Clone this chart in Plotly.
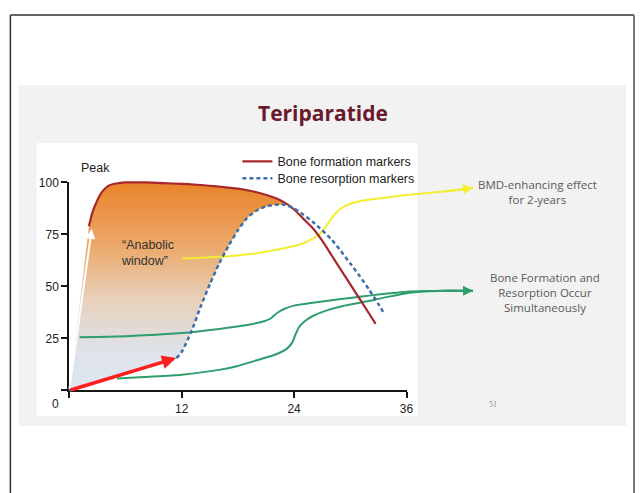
import plotly.graph_objects as go

W, H = 643, 493

# ---- data (months since start of treatment, marker level in % of peak) ----
form_month = [2.1, 2.5, 3.0, 3.5, 4.2, 5.0, 6.0, 8.0, 10, 12, 14, 16, 18, 20, 22,
              23, 24, 25, 26, 27, 28, 29, 30, 31, 32, 32.7]
form_level = [79, 86, 91.5, 95.5, 98.5, 99.5, 100, 100, 99.7, 99.3, 98.8, 98, 97,
              95.3, 92.5, 90.3, 87, 82.5, 78, 72, 65, 58, 51, 44, 37, 32]

res_month = [0, 2, 4, 6, 8, 10, 11.4, 12, 13, 14, 15, 16, 17, 18, 19, 20, 21, 22,
             23, 24, 25, 26, 27, 28, 29, 30, 31, 32, 33, 33.6]
res_level = [0, 2.8, 5.5, 8.2, 10.8, 13.5, 15.5, 18.5, 28, 40, 51, 61, 69.5, 77,
             83, 86.5, 88.5, 89.3, 89.3, 87.5, 84.5, 81, 77, 72.5, 67, 61, 55,
             48.5, 41.5, 37]

sim_upper_month = [1.1, 4, 8, 12, 16, 19, 20, 20.8, 21.5, 21.9, 22.3, 23, 24, 26,
                   28, 30, 32, 34, 36, 38, 40, 43.1]
sim_upper_level = [25.6, 25.8, 26.5, 27.6, 29.6, 31.5, 32.4, 33.3, 34.6, 36.2,
                   37.6, 39.3, 40.8, 42.2, 43.4, 44.5, 45.6, 46.6, 47.5, 47.8,
                   47.9, 48]

sim_lower_month = [5.1, 8, 12, 16, 18, 20, 22, 23.2, 23.8, 24.1, 24.5, 25.2, 26,
                   27.5, 29.2, 31, 32.4, 34, 36.2, 38, 40, 43.1]
sim_lower_level = [5.7, 6.5, 7.6, 9.9, 11.8, 14.5, 17.3, 20, 23, 26.4, 30.3, 33.5,
                   35.8, 38.5, 40.6, 42.2, 43.4, 45, 46.9, 47.6, 47.9, 48]

bmd_month = [12.1, 14, 17, 20, 22, 24, 25, 26, 26.8, 27.5, 28.2, 29, 30, 31, 33,
             36, 40, 43.1]
bmd_level = [63.5, 63.8, 64.5, 66, 67.5, 69.5, 70.8, 73, 75.5, 79.5, 84, 87.5,
             89.8, 91, 92.3, 94, 95.7, 97.3]

anabolic_end = 23                      # where the two marker curves meet
early_formation = (11.4, 15.6)         # tip of the red arrow
early_peak = (2.4, 77.7)               # tip of the white arrow

x_ticks = [0, 12, 24, 36]
y_ticks = [0, 25, 50, 75, 100]

# ---- page geometry (pixels) ----
X0_PX, X36_PX = 70, 411
Y0_PX, Y100_PX = 389, 178
OV_L, OV_R, OV_T, OV_B = 37, 505, 140, 415   # area in which curves are drawn


def fx(px):
    return px / W


def fy(py):
    return 1 - py / H


ppm = (X36_PX - X0_PX) / 36.0
ppu = (Y0_PX - Y100_PX) / 100.0
x2_range = [(OV_L - X0_PX) / ppm, (OV_R - X0_PX) / ppm]
y2_range = [(Y0_PX - OV_B) / ppu, (Y0_PX - OV_T) / ppu]

RED = "#a8282a"
BLUE = "#3d6ea8"
GREEN = "#2f9e6e"
YELLOW = "#f2ee30"
CHART_FONT = "Liberation Sans, Arial, sans-serif"
SLIDE_FONT = "Open Sans, sans-serif"

fig = go.Figure()

# placeholder so the visible axis pair is rendered
fig.add_trace(go.Scatter(x=[], y=[], xaxis="x", yaxis="y", showlegend=False))

# anabolic window: area between formation and resorption curves
top_x = [m for m in form_month if m <= anabolic_end]
top_y = form_level[:len(top_x)]
bot = [(m, v) for m, v in zip(res_month, res_level) if m <= anabolic_end][::-1]
poly_x = [0] + top_x + [m for m, _ in bot]
poly_y = [0] + top_y + [v for _, v in bot]
fig.add_trace(go.Scatter(
    x=poly_x, y=poly_y, xaxis="x2", yaxis="y2", mode="lines",
    line=dict(width=0), fill="toself", showlegend=False, hoverinfo="skip",
    fillgradient=dict(
        type="vertical", start=0, stop=100,
        colorscale=[[0, "#dce6f2"], [0.2, "#dfe3ea"], [0.45, "#e7d0ba"],
                    [0.7, "#eca96a"], [1, "#e8842a"]])))

# pale edge on the left of the window, under the white arrow
fig.add_trace(go.Scatter(
    x=[0, early_peak[0]], y=[0, early_peak[1]], xaxis="x2", yaxis="y2",
    mode="lines", line=dict(color="#f4c4c4", width=1), showlegend=False,
    hoverinfo="skip"))

# green: formation and resorption occurring together
for mx, lv in ((sim_upper_month, sim_upper_level), (sim_lower_month, sim_lower_level)):
    fig.add_trace(go.Scatter(
        x=mx, y=lv, xaxis="x2", yaxis="y2", mode="lines",
        line=dict(color=GREEN, width=2, shape="spline", smoothing=0.6),
        showlegend=False, hoverinfo="skip"))

# yellow: BMD effect
fig.add_trace(go.Scatter(
    x=bmd_month, y=bmd_level, xaxis="x2", yaxis="y2", mode="lines",
    line=dict(color=YELLOW, width=2, shape="spline", smoothing=0.6),
    showlegend=False, hoverinfo="skip"))

fig.add_trace(go.Scatter(
    x=form_month, y=form_level, xaxis="x2", yaxis="y2", mode="lines",
    name="Bone formation markers", legend="legend",
    line=dict(color=RED, width=2.2, shape="spline", smoothing=0.6)))
fig.add_trace(go.Scatter(
    x=res_month, y=res_level, xaxis="x2", yaxis="y2", mode="lines",
    name="Bone resorption markers", legend="legend2",
    line=dict(color=BLUE, width=2.5, dash="4px,3px", shape="spline",
              smoothing=0.6)))

axis_common = dict(showgrid=False, zeroline=False, showline=True, linewidth=2,
                   linecolor="#151515", ticks="outside", tickwidth=2,
                   tickcolor="#151515", ticklen=6,
                   tickfont=dict(family=CHART_FONT, size=12, color="#222"))

legend_common = dict(xanchor="left", yanchor="middle", bgcolor="rgba(0,0,0,0)",
                     itemwidth=30,
                     font=dict(family=CHART_FONT, size=12.5, color="#222"))

fig.update_layout(
    width=W, height=H, autosize=False,
    margin=dict(l=0, r=0, t=0, b=0),
    paper_bgcolor="white", plot_bgcolor="rgba(0,0,0,0)",
    xaxis=dict(domain=[fx(X0_PX), fx(X36_PX)], range=[0, 36], anchor="y",
               tickvals=x_ticks,
               ticktext=[""] + [str(v) for v in x_ticks[1:]], **axis_common),
    yaxis=dict(domain=[fy(Y0_PX), fy(Y100_PX)], range=[0, 100], anchor="x",
               tickvals=y_ticks,
               ticktext=[""] + [str(v) for v in y_ticks[1:]], **axis_common),
    xaxis2=dict(domain=[fx(OV_L), fx(OV_R)], range=x2_range, anchor="y2",
                visible=False),
    yaxis2=dict(domain=[fy(OV_B), fy(OV_T)], range=y2_range, anchor="x2",
                visible=False),
    legend=dict(x=fx(240), y=fy(157), **legend_common),
    legend2=dict(x=fx(240), y=fy(174), **legend_common),
    shapes=[
        dict(type="rect", xref="paper", yref="paper", layer="below",
             x0=fx(19), x1=fx(633), y0=fy(425), y1=fy(79),
             fillcolor="#f2f2f2", line=dict(width=0)),
        dict(type="rect", xref="paper", yref="paper", layer="below",
             x0=fx(37), x1=fx(422), y0=fy(415), y1=fy(138),
             fillcolor="white", line=dict(width=0)),
        dict(type="line", xref="paper", yref="paper", x0=fx(10.5), x1=fx(10.5),
             y0=fy(8), y1=0, line=dict(color="#333", width=1.5)),
        dict(type="line", xref="paper", yref="paper", x0=fx(10.5), x1=fx(641),
             y0=fy(8), y1=fy(8), line=dict(color="#333", width=1.5)),
        dict(type="line", xref="paper", yref="paper", x0=fx(641), x1=fx(641),
             y0=fy(8), y1=0, line=dict(color="#777", width=2)),
    ],
)


def label(text, px, py, size, color, family, **kw):
    return dict(text=text, xref="paper", yref="paper", x=fx(px), y=fy(py),
                xanchor=kw.pop("xanchor", "center"), yanchor="middle",
                showarrow=False, font=dict(family=family, size=size, color=color),
                **kw)


ann = [
    label("<b>Teriparatide</b>", 327, 108, 21, "#6b1a2d", SLIDE_FONT),
    label("0", 56, 403, 12, "#222", CHART_FONT),
    label("BMD-enhancing effect<br>for 2-years", 543, 188, 11.5, "#5a5a5a",
          SLIDE_FONT),
    label("Bone Formation and<br>Resorption Occur<br>Simultaneously", 551, 290,
          11.5, "#5a5a5a", SLIDE_FONT),
    label("51", 498, 403, 8, "#888", "Liberation Serif, serif"),
    dict(text="Peak", xref="x2", yref="y2", x=1.0, y=106.8, xanchor="left",
         yanchor="middle", showarrow=False,
         font=dict(family=CHART_FONT, size=12.5, color="#222")),
    dict(text="\u201cAnabolic<br>window\u201d", xref="x2", yref="y2", x=5.3,
         y=66.3, xanchor="left", yanchor="middle", align="left",
         showarrow=False,
         font=dict(family=CHART_FONT, size=12.5, color="#333")),
]

arrow_base = dict(xref="x2", yref="y2", axref="x2", ayref="y2", text="",
                  showarrow=True, standoff=0, startstandoff=0)
ann.append(dict(arrow_base, x=early_peak[0], y=early_peak[1], ax=0, ay=0,
                arrowcolor="white", arrowwidth=2, arrowhead=2, arrowsize=1))
ann.append(dict(arrow_base, x=early_formation[0], y=early_formation[1], ax=0,
                ay=0, arrowcolor="#ff1e1e", arrowwidth=3.5, arrowhead=2,
                arrowsize=0.8))
ann.append(dict(arrow_base, x=sim_upper_month[-1], y=sim_upper_level[-1],
                ax=sim_upper_month[-2], ay=sim_upper_level[-2],
                arrowcolor=GREEN, arrowwidth=2, arrowhead=2, arrowsize=1))
ann.append(dict(arrow_base, x=bmd_month[-1], y=bmd_level[-1],
                ax=bmd_month[-2], ay=bmd_level[-2],
                arrowcolor=YELLOW, arrowwidth=2, arrowhead=2, arrowsize=1))
fig.update_layout(annotations=ann)

fig.write_html("out.html")
